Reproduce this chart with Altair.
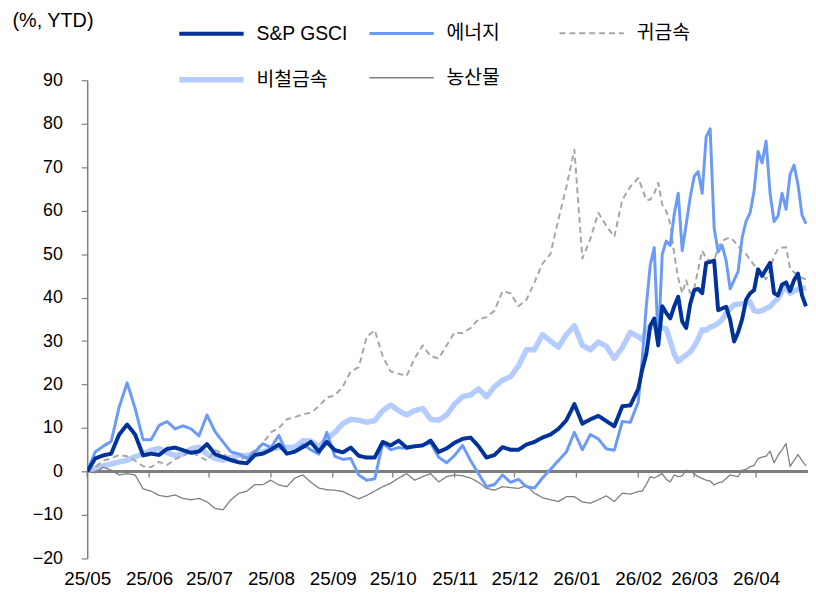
import altair as alt
import pandas as pd

# ---------------- data ----------------
START = "2025-05-01"
# 4-day grid until early Feb-26, then 2-day grid (days since 2025-05-01)
day_offsets = list(range(0, 277, 4)) + list(range(278, 361, 2))
dates = (pd.Timestamp(START) + pd.to_timedelta(day_offsets, unit="D")).strftime("%Y-%m-%d").tolist()

series_names = ["S&P GSCI", "에너지", "귀금속", "비철금속", "농산물"]

sp_gsci = [
    0, 3.0, 3.7, 4.1, 8.5, 10.8, 8.5, 3.7, 4.1, 3.8,
    5.2, 5.5, 4.9, 4.3, 4.6, 6.3, 4.0, 3.3, 2.6, 2.1,
    1.9, 3.8, 4.1, 5.0, 6.2, 4.1, 4.6, 5.6, 6.8, 4.6,
    6.8, 4.9, 4.4, 5.5, 3.6, 3.2, 3.2, 6.8, 6.0, 7.1,
    5.5, 5.8, 6.0, 7.1, 4.5, 5.3, 6.6, 7.5, 7.8, 5.8,
    3.2, 3.8, 5.6, 5.0, 5.0, 6.2, 6.8, 7.8, 8.5, 9.8,
    11.8, 15.5, 11.0, 12.0, 12.8, 11.6, 10.4, 15.0, 15.2, 19.0,
    23.5, 27.0, 33.5, 35.2, 29.0, 38.0, 36.5, 35.2, 38.0, 40.2,
    34.5, 33.0, 38.5, 41.7, 42.0, 41.0, 48.0, 48.2, 48.5, 37.1,
    37.5, 37.9, 34.9, 29.9, 32.0, 35.0, 39.5, 41.0, 41.7, 46.5,
    45.0, 46.5, 48.0, 41.0, 40.5, 43.0, 43.5, 41.5, 44.0, 45.5,
    40.5, 38.0,
]

energy = [
    0, 4.5, 5.8, 6.9, 14.8, 20.4, 14.5, 7.3, 7.3, 10.6,
    11.5, 9.8, 10.5, 9.8, 8.2, 13.0, 9.2, 6.8, 4.5, 4.0,
    3.0, 4.5, 6.4, 5.5, 8.3, 4.1, 4.5, 6.2, 5.0, 4.0,
    9.0, 3.5, 2.8, 3.0, -0.8, -2.0, -1.7, 6.5, 5.0, 5.5,
    5.3, 5.8, 6.0, 6.6, 3.3, 2.0, 3.7, 6.0, 2.5, -0.5,
    -3.5, -3.0, -0.8, -2.5, -1.8, -3.5, -3.8, -1.5, 0.5, 2.5,
    4.5, 9.0, 5.0, 8.5, 7.5, 5.2, 4.9, 11.5, 11.3, 16.0,
    26.0, 38.0, 47.5, 51.5, 29.0, 50.0, 53.0, 52.0, 59.2, 64.0,
    50.8, 56.9, 63.0, 67.9, 69.0, 64.0, 77.0, 78.8, 56.0, 50.5,
    52.0, 48.5, 42.0, 44.0, 46.0, 53.8, 57.6, 59.5, 64.5, 73.6,
    71.0, 76.0, 64.0, 57.5, 58.8, 64.0, 60.3, 68.3, 70.5, 66.0,
    59.0, 57.0,
]

precious = [
    0, 1.0, 2.5, 3.0, 3.8, 3.5, 2.5, 1.2, 1.0, 2.2,
    1.5, 2.8, 3.7, 4.5, 3.5, 2.5, 5.0, 4.0, 3.0, 2.5,
    3.5, 5.0, 6.5, 9.0, 10.0, 12.0, 12.5, 13.2, 13.5, 15.0,
    17.0, 17.5, 19.5, 23.0, 24.0, 31.0, 32.5, 26.5, 23.0, 22.5,
    22.0, 26.0, 29.0, 26.5, 26.0, 29.0, 32.0, 31.8, 33.0, 35.0,
    35.5, 37.0, 41.5, 41.0, 38.0, 39.5, 43.5, 47.8, 50.0, 58.0,
    65.5, 74.0, 49.0, 53.5, 59.5, 56.5, 54.0, 62.5, 65.5, 67.5,
    65.0, 62.5, 62.5, 64.0, 66.4, 61.4, 59.9, 57.0, 50.0, 44.5,
    41.0, 44.0, 41.0, 42.0, 46.5, 50.8, 49.0, 48.5, 48.5, 51.5,
    53.0, 53.5, 53.8, 53.0, 51.8, 50.8, 50.0, 48.7, 47.5, 46.5,
    45.5, 44.2, 46.5, 49.5, 51.2, 51.5, 51.6, 46.8, 45.8, 45.2,
    44.5, 44.2,
]

base_metals = [
    0, 0.8, 1.3, 1.7, 2.2, 2.6, 3.4, 4.0, 4.9, 5.3,
    4.3, 3.7, 4.0, 5.2, 5.6, 4.0, 3.0, 2.6, 3.2, 3.7,
    3.7, 4.0, 4.5, 5.2, 5.5, 5.5, 5.6, 7.1, 7.0, 5.7,
    7.5, 9.0, 11.0, 12.0, 11.8, 11.3, 11.7, 14.0, 15.3, 14.0,
    13.0, 14.0, 14.5, 12.0, 11.8, 13.0, 15.5, 17.2, 17.6, 19.0,
    17.2, 19.5, 21.0, 21.8, 24.3, 28.0, 28.0, 31.5, 30.0, 28.6,
    31.5, 33.5, 29.0, 28.0, 29.8, 28.8, 26.0, 28.5, 32.0, 31.0,
    30.3, 32.5, 33.3, 33.5, 33.7, 33.0, 32.8, 30.0, 27.0, 25.3,
    26.1, 26.8, 27.5, 28.8, 30.5, 32.6, 32.5, 33.2, 33.5, 34.1,
    35.0, 36.4, 37.5, 38.3, 38.5, 38.6, 38.8, 39.0, 37.0, 36.8,
    37.0, 37.5, 37.9, 39.0, 39.8, 41.5, 42.4, 41.0, 41.5, 41.9,
    42.1, 42.3,
]

agri = [
    0, -0.3, 1.0, 0.3, -0.8, -0.5, -0.8, -4.0, -4.5, -5.5,
    -5.8, -5.4, -6.2, -6.5, -6.2, -7.0, -8.5, -8.8, -6.5, -5.0,
    -4.5, -3.0, -3.0, -2.0, -3.1, -3.5, -1.5, -0.8, -2.5, -3.8,
    -4.2, -4.3, -4.6, -5.5, -6.3, -5.5, -4.5, -3.5, -2.7, -1.5,
    -0.5, -2.0, -1.2, -0.5, -2.4, -1.2, -0.8, -1.0, -1.5, -2.5,
    -3.9, -4.3, -3.5, -3.7, -3.9, -3.2, -5.0, -6.0, -6.5, -6.9,
    -5.8, -5.8, -7.0, -7.3, -6.5, -5.6, -6.9, -5.0, -5.2, -4.6,
    -4.5, -3.0, -1.2, -1.5, -1.0, -0.5, -1.8, -2.4, -0.8, -1.2,
    -1.0, 0.3, 0.0, -0.5, -1.2, -1.6, -2.0, -2.2, -3.1, -2.6,
    -2.4, -1.6, -0.8, -1.0, -1.2, 0.3, 0.5, 1.1, 1.4, 3.0,
    3.3, 3.5, 4.7, 2.0, 3.7, 5.0, 6.4, 1.2, 2.5, 3.9,
    2.5, 1.3,
]

y_ticks = [-20, -10, 0, 10, 20, 30, 40, 50, 60, 70, 80, 90]
month_ticks = ["2025-05-01", "2025-06-01", "2025-07-01", "2025-08-01", "2025-09-01",
               "2025-10-01", "2025-11-01", "2025-12-01", "2026-01-01", "2026-02-01",
               "2026-03-01", "2026-04-01"]
x_domain = ["2025-05-01", "2026-04-27"]

# legend is filled column by column: this order gives
# row 1: S&P GSCI, 에너지, 귀금속 / row 2: 비철금속, 농산물
legend_order = ["S&P GSCI", "비철금속", "에너지", "농산물", "귀금속"]
style = {
    "S&P GSCI": ("#003399", [1, 0], 4.0),
    "에너지": ("#6B9BF7", [1, 0], 3.0),
    "귀금속": ("#A6A6A6", [6, 4], 2.0),
    "비철금속": ("#B4CCFF", [1, 0], 5.5),
    "농산물": ("#7F7F7F", [1, 0], 1.3),
}
colors = [style[s][0] for s in legend_order]
dashes = [style[s][1] for s in legend_order]
widths = [style[s][2] for s in legend_order]

# drawing order (last drawn on top)
draw_order = ["비철금속", "귀금속", "농산물", "에너지", "S&P GSCI"]
series_values = dict(zip(series_names, [sp_gsci, energy, precious, base_metals, agri]))

rows = []
for name in draw_order:
    for d, v in zip(dates, series_values[name]):
        rows.append({"date": d, "value": v, "series": name})
df = pd.DataFrame(rows)
ticks_df = pd.DataFrame({"date": month_ticks})


def ms(d):
    return int(pd.Timestamp(d, tz="UTC").timestamp() * 1000)


FONT = "Liberation Sans, Arial, Noto Sans CJK KR, sans-serif"
GRAY = "#7F7F7F"
TICK_LEN = 1.4  # tick length below the zero line, in axis units (~6 px)

x_scale = alt.Scale(type="utc", domain=[ms(d) for d in x_domain])
y_scale = alt.Scale(domain=[-20, 90], nice=False, zero=False)

x_enc = alt.X("date:T", scale=x_scale,
              axis=alt.Axis(orient="bottom", domain=False, ticks=False, grid=False, title=None,
                            values=[ms(d) for d in month_ticks],
                            labelExpr="utcFormat(datum.value, '%y/%m')",
                            labelFlush=False, labelOverlap=False, labelBound=False,
                            labelAlign="center",
                            labelFont=FONT, labelFontSize=19, labelColor="#000000",
                            labelPadding=11))
y_enc = alt.Y("value:Q", scale=y_scale,
              axis=alt.Axis(values=y_ticks, tickSize=6, labelPadding=19, grid=False,
                            domainColor=GRAY, tickColor=GRAY, domainWidth=1.5, tickWidth=1.2,
                            labelFont=FONT, labelFontSize=18, labelColor="#000000",
                            title="(%, YTD)", titleAngle=0, titleAlign="left",
                            titleBaseline="middle", titleX=-76, titleY=-60,
                            titleFont=FONT, titleFontSize=20, titleFontWeight="normal",
                            titleColor="#000000"))

zero_line = alt.Chart(ticks_df).mark_rule(color=GRAY, strokeWidth=2).encode(
    y=alt.datum(0, type="quantitative", scale=y_scale)
)

zero_ticks = alt.Chart(ticks_df).mark_rule(color=GRAY, strokeWidth=1.3).encode(
    x=alt.X("date:T", scale=x_scale),
    y=alt.datum(0, type="quantitative"),
    y2=alt.datum(-TICK_LEN),
)

lines = alt.Chart(df).mark_line(strokeJoin="round", clip=True).encode(
    x=x_enc,
    y=y_enc,
    color=alt.Color("series:N", scale=alt.Scale(domain=legend_order, range=colors),
                    legend=alt.Legend(title=None, orient="none", legendX=90, legendY=-83,
                                      columns=3, gridAlign="all", columnPadding=15, rowPadding=-6,
                                      symbolType="stroke", symbolSize=4225, labelOffset=10,
                                      labelFont=FONT, labelFontSize=19.5, labelColor="#000000")),
    strokeDash=alt.StrokeDash("series:N", scale=alt.Scale(type="ordinal", domain=legend_order, range=dashes)),
    strokeWidth=alt.StrokeWidth("series:N", scale=alt.Scale(type="ordinal", domain=legend_order, range=widths)),
    detail="series:N",
)

chart = alt.layer(zero_line, zero_ticks, lines).properties(
    width=728, height=483,
    autosize=alt.AutoSizeParams(type="none"),
    padding={"left": 80, "top": 70, "right": 0, "bottom": 36},
).configure_view(stroke=None)

chart.save("out.html", embed_options={"renderer": "svg", "actions": False})
